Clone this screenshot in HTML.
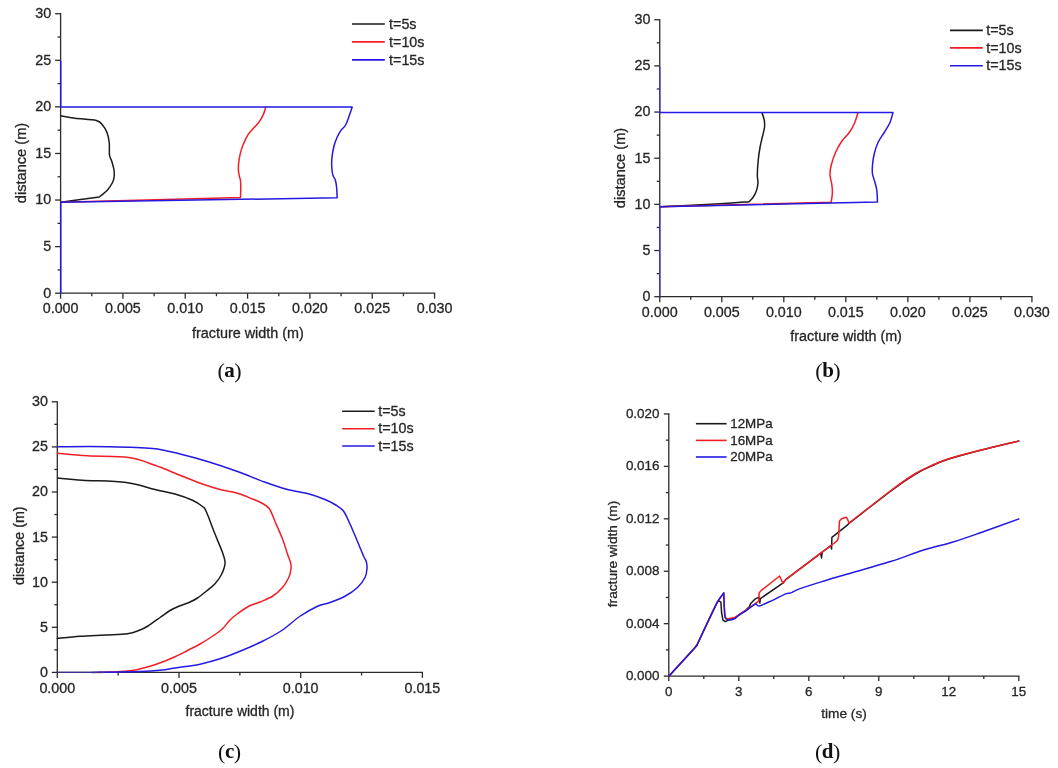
<!DOCTYPE html>
<html lang="en"><head><meta charset="utf-8"><title>Fracture width figures</title>
<style>
html,body{margin:0;padding:0;background:#fff;}
body{width:1058px;height:768px;overflow:hidden;}
svg{display:block;font-family:"Liberation Sans",Arial,sans-serif;}
</style></head><body>
<svg width="1058" height="768" viewBox="0 0 1058 768">
<rect width="1058" height="768" fill="#ffffff"/>
<line x1="60.60" y1="293.80" x2="60.60" y2="13.12" stroke="#2b2b2b" stroke-width="1.3"/>
<line x1="60.00" y1="293.20" x2="435.18" y2="293.20" stroke="#2b2b2b" stroke-width="1.3"/>
<line x1="60.60" y1="293.20" x2="60.60" y2="298.70" stroke="#2b2b2b" stroke-width="1.3"/>
<text x="60.60" y="313.30" font-size="14.3" text-anchor="middle" fill="#262626" stroke="#262626" stroke-width="0.3" >0.000</text>
<line x1="91.77" y1="293.20" x2="91.77" y2="296.20" stroke="#2b2b2b" stroke-width="1.3"/>
<line x1="122.93" y1="293.20" x2="122.93" y2="298.70" stroke="#2b2b2b" stroke-width="1.3"/>
<text x="122.93" y="313.30" font-size="14.3" text-anchor="middle" fill="#262626" stroke="#262626" stroke-width="0.3" >0.005</text>
<line x1="154.09" y1="293.20" x2="154.09" y2="296.20" stroke="#2b2b2b" stroke-width="1.3"/>
<line x1="185.26" y1="293.20" x2="185.26" y2="298.70" stroke="#2b2b2b" stroke-width="1.3"/>
<text x="185.26" y="313.30" font-size="14.3" text-anchor="middle" fill="#262626" stroke="#262626" stroke-width="0.3" >0.010</text>
<line x1="216.43" y1="293.20" x2="216.43" y2="296.20" stroke="#2b2b2b" stroke-width="1.3"/>
<line x1="247.59" y1="293.20" x2="247.59" y2="298.70" stroke="#2b2b2b" stroke-width="1.3"/>
<text x="247.59" y="313.30" font-size="14.3" text-anchor="middle" fill="#262626" stroke="#262626" stroke-width="0.3" >0.015</text>
<line x1="278.75" y1="293.20" x2="278.75" y2="296.20" stroke="#2b2b2b" stroke-width="1.3"/>
<line x1="309.92" y1="293.20" x2="309.92" y2="298.70" stroke="#2b2b2b" stroke-width="1.3"/>
<text x="309.92" y="313.30" font-size="14.3" text-anchor="middle" fill="#262626" stroke="#262626" stroke-width="0.3" >0.020</text>
<line x1="341.09" y1="293.20" x2="341.09" y2="296.20" stroke="#2b2b2b" stroke-width="1.3"/>
<line x1="372.25" y1="293.20" x2="372.25" y2="298.70" stroke="#2b2b2b" stroke-width="1.3"/>
<text x="372.25" y="313.30" font-size="14.3" text-anchor="middle" fill="#262626" stroke="#262626" stroke-width="0.3" >0.025</text>
<line x1="403.42" y1="293.20" x2="403.42" y2="296.20" stroke="#2b2b2b" stroke-width="1.3"/>
<line x1="434.58" y1="293.20" x2="434.58" y2="298.70" stroke="#2b2b2b" stroke-width="1.3"/>
<text x="434.58" y="313.30" font-size="14.3" text-anchor="middle" fill="#262626" stroke="#262626" stroke-width="0.3" >0.030</text>
<line x1="60.60" y1="293.20" x2="55.10" y2="293.20" stroke="#2b2b2b" stroke-width="1.3"/>
<text x="51.20" y="297.60" font-size="14.3" text-anchor="end" fill="#262626" stroke="#262626" stroke-width="0.3" >0</text>
<line x1="60.60" y1="269.91" x2="57.60" y2="269.91" stroke="#2b2b2b" stroke-width="1.3"/>
<line x1="60.60" y1="246.62" x2="55.10" y2="246.62" stroke="#2b2b2b" stroke-width="1.3"/>
<text x="51.20" y="251.02" font-size="14.3" text-anchor="end" fill="#262626" stroke="#262626" stroke-width="0.3" >5</text>
<line x1="60.60" y1="223.33" x2="57.60" y2="223.33" stroke="#2b2b2b" stroke-width="1.3"/>
<line x1="60.60" y1="200.04" x2="55.10" y2="200.04" stroke="#2b2b2b" stroke-width="1.3"/>
<text x="51.20" y="204.44" font-size="14.3" text-anchor="end" fill="#262626" stroke="#262626" stroke-width="0.3" >10</text>
<line x1="60.60" y1="176.75" x2="57.60" y2="176.75" stroke="#2b2b2b" stroke-width="1.3"/>
<line x1="60.60" y1="153.46" x2="55.10" y2="153.46" stroke="#2b2b2b" stroke-width="1.3"/>
<text x="51.20" y="157.86" font-size="14.3" text-anchor="end" fill="#262626" stroke="#262626" stroke-width="0.3" >15</text>
<line x1="60.60" y1="130.17" x2="57.60" y2="130.17" stroke="#2b2b2b" stroke-width="1.3"/>
<line x1="60.60" y1="106.88" x2="55.10" y2="106.88" stroke="#2b2b2b" stroke-width="1.3"/>
<text x="51.20" y="111.28" font-size="14.3" text-anchor="end" fill="#262626" stroke="#262626" stroke-width="0.3" >20</text>
<line x1="60.60" y1="83.59" x2="57.60" y2="83.59" stroke="#2b2b2b" stroke-width="1.3"/>
<line x1="60.60" y1="60.30" x2="55.10" y2="60.30" stroke="#2b2b2b" stroke-width="1.3"/>
<text x="51.20" y="64.70" font-size="14.3" text-anchor="end" fill="#262626" stroke="#262626" stroke-width="0.3" >25</text>
<line x1="60.60" y1="37.01" x2="57.60" y2="37.01" stroke="#2b2b2b" stroke-width="1.3"/>
<line x1="60.60" y1="13.72" x2="55.10" y2="13.72" stroke="#2b2b2b" stroke-width="1.3"/>
<text x="51.20" y="18.12" font-size="14.3" text-anchor="end" fill="#262626" stroke="#262626" stroke-width="0.3" >30</text>
<text x="247.90" y="337.50" font-size="14.4" text-anchor="middle" fill="#262626" stroke="#262626" stroke-width="0.3" >fracture width (m)</text>
<text transform="translate(25.60,163.00) rotate(-90)" font-size="14.6" text-anchor="middle" fill="#262626" stroke="#262626" stroke-width="0.3">distance (m)</text>
<path d="M60.75,115.75 C63.12,116.17 69.08,117.46 75.00,118.25 C80.92,119.04 91.67,119.38 96.25,120.50 C100.83,121.62 100.71,123.00 102.50,125.00 C104.29,127.00 105.88,129.58 107.00,132.50 C108.12,135.42 108.83,138.75 109.25,142.50 C109.67,146.25 109.08,151.88 109.50,155.00 C109.92,158.12 111.00,158.75 111.75,161.25 C112.50,163.75 113.59,167.46 114.00,170.00 C114.41,172.54 114.45,174.42 114.20,176.50 C113.95,178.58 113.62,180.25 112.50,182.50 C111.38,184.75 109.71,187.58 107.50,190.00 C105.29,192.42 100.62,195.83 99.25,197.00 L99.25,197.00 C96.46,197.38 88.92,198.38 82.50,199.25 C76.08,200.12 64.38,201.75 60.75,202.25 " fill="none" stroke="#1a1a1a" stroke-width="1.5" stroke-linejoin="round" stroke-linecap="round"/>
<path d="M265.80,106.90 C265.38,108.18 264.43,112.07 263.30,114.60 C262.17,117.13 260.57,119.90 259.00,122.10 C257.43,124.30 255.70,125.75 253.90,127.80 C252.10,129.85 250.00,131.57 248.20,134.40 C246.40,137.23 244.45,141.48 243.10,144.80 C241.75,148.12 240.85,151.15 240.10,154.30 C239.35,157.45 238.88,161.03 238.60,163.70 C238.32,166.37 238.28,168.25 238.40,170.30 C238.52,172.35 238.95,174.27 239.30,176.00 C239.65,177.73 240.25,178.65 240.50,180.70 C240.75,182.75 240.80,185.52 240.80,188.30 C240.80,191.08 240.55,195.88 240.50,197.40 L60.75,202.25" fill="none" stroke="#f21e26" stroke-width="1.5" stroke-linejoin="round" stroke-linecap="round"/>
<path d="M60.7,61.0 L60.7,106.9 L352.2,106.9 L352.20,106.90 C351.72,108.33 350.40,112.48 349.30,115.50 C348.20,118.52 347.02,122.48 345.60,125.00 C344.18,127.52 342.22,128.55 340.80,130.60 C339.38,132.65 338.27,134.62 337.10,137.30 C335.93,139.98 334.67,143.23 333.80,146.70 C332.93,150.17 332.23,154.63 331.90,158.10 C331.57,161.57 331.63,164.67 331.80,167.50 C331.97,170.33 332.33,173.05 332.90,175.10 C333.47,177.15 334.60,177.92 335.20,179.80 C335.80,181.68 336.17,183.40 336.50,186.40 C336.83,189.40 337.08,195.90 337.20,197.80 L60.7,202.25 L60.7,293.2" fill="none" stroke="#2419e2" stroke-width="1.5" stroke-linejoin="round" stroke-linecap="round"/>
<line x1="352.00" y1="24.05" x2="384.80" y2="24.05" stroke="#1a1a1a" stroke-width="1.6"/>
<text x="389.10" y="28.84" font-size="14.3" text-anchor="start" fill="#262626" stroke="#262626" stroke-width="0.3" >t=5s</text>
<line x1="352.00" y1="41.90" x2="384.80" y2="41.90" stroke="#f21e26" stroke-width="1.6"/>
<text x="389.10" y="46.69" font-size="14.3" text-anchor="start" fill="#262626" stroke="#262626" stroke-width="0.3" >t=10s</text>
<line x1="352.00" y1="59.90" x2="384.80" y2="59.90" stroke="#2419e2" stroke-width="1.6"/>
<text x="389.10" y="64.69" font-size="14.3" text-anchor="start" fill="#262626" stroke="#262626" stroke-width="0.3" >t=15s</text>
<text x="229.60" y="376.80" text-anchor="middle" font-family="'Liberation Serif',serif" font-size="21" fill="#111"><tspan font-size="22" dy="0.8">(</tspan><tspan font-weight="bold" dy="-0.8" dx="-0.5">a</tspan><tspan font-size="22" dy="0.8" dx="-0.5">)</tspan></text>
<line x1="659.75" y1="297.30" x2="659.75" y2="19.14" stroke="#2b2b2b" stroke-width="1.3"/>
<line x1="659.15" y1="296.70" x2="1032.53" y2="296.70" stroke="#2b2b2b" stroke-width="1.3"/>
<line x1="659.75" y1="296.70" x2="659.75" y2="302.20" stroke="#2b2b2b" stroke-width="1.3"/>
<text x="659.75" y="316.90" font-size="14.3" text-anchor="middle" fill="#262626" stroke="#262626" stroke-width="0.3" >0.000</text>
<line x1="690.76" y1="296.70" x2="690.76" y2="299.70" stroke="#2b2b2b" stroke-width="1.3"/>
<line x1="721.78" y1="296.70" x2="721.78" y2="302.20" stroke="#2b2b2b" stroke-width="1.3"/>
<text x="721.78" y="316.90" font-size="14.3" text-anchor="middle" fill="#262626" stroke="#262626" stroke-width="0.3" >0.005</text>
<line x1="752.79" y1="296.70" x2="752.79" y2="299.70" stroke="#2b2b2b" stroke-width="1.3"/>
<line x1="783.81" y1="296.70" x2="783.81" y2="302.20" stroke="#2b2b2b" stroke-width="1.3"/>
<text x="783.81" y="316.90" font-size="14.3" text-anchor="middle" fill="#262626" stroke="#262626" stroke-width="0.3" >0.010</text>
<line x1="814.83" y1="296.70" x2="814.83" y2="299.70" stroke="#2b2b2b" stroke-width="1.3"/>
<line x1="845.84" y1="296.70" x2="845.84" y2="302.20" stroke="#2b2b2b" stroke-width="1.3"/>
<text x="845.84" y="316.90" font-size="14.3" text-anchor="middle" fill="#262626" stroke="#262626" stroke-width="0.3" >0.015</text>
<line x1="876.86" y1="296.70" x2="876.86" y2="299.70" stroke="#2b2b2b" stroke-width="1.3"/>
<line x1="907.87" y1="296.70" x2="907.87" y2="302.20" stroke="#2b2b2b" stroke-width="1.3"/>
<text x="907.87" y="316.90" font-size="14.3" text-anchor="middle" fill="#262626" stroke="#262626" stroke-width="0.3" >0.020</text>
<line x1="938.88" y1="296.70" x2="938.88" y2="299.70" stroke="#2b2b2b" stroke-width="1.3"/>
<line x1="969.90" y1="296.70" x2="969.90" y2="302.20" stroke="#2b2b2b" stroke-width="1.3"/>
<text x="969.90" y="316.90" font-size="14.3" text-anchor="middle" fill="#262626" stroke="#262626" stroke-width="0.3" >0.025</text>
<line x1="1000.91" y1="296.70" x2="1000.91" y2="299.70" stroke="#2b2b2b" stroke-width="1.3"/>
<line x1="1031.93" y1="296.70" x2="1031.93" y2="302.20" stroke="#2b2b2b" stroke-width="1.3"/>
<text x="1031.93" y="316.90" font-size="14.3" text-anchor="middle" fill="#262626" stroke="#262626" stroke-width="0.3" >0.030</text>
<line x1="659.75" y1="296.70" x2="654.25" y2="296.70" stroke="#2b2b2b" stroke-width="1.3"/>
<text x="650.35" y="301.10" font-size="14.3" text-anchor="end" fill="#262626" stroke="#262626" stroke-width="0.3" >0</text>
<line x1="659.75" y1="273.62" x2="656.75" y2="273.62" stroke="#2b2b2b" stroke-width="1.3"/>
<line x1="659.75" y1="250.54" x2="654.25" y2="250.54" stroke="#2b2b2b" stroke-width="1.3"/>
<text x="650.35" y="254.94" font-size="14.3" text-anchor="end" fill="#262626" stroke="#262626" stroke-width="0.3" >5</text>
<line x1="659.75" y1="227.46" x2="656.75" y2="227.46" stroke="#2b2b2b" stroke-width="1.3"/>
<line x1="659.75" y1="204.38" x2="654.25" y2="204.38" stroke="#2b2b2b" stroke-width="1.3"/>
<text x="650.35" y="208.78" font-size="14.3" text-anchor="end" fill="#262626" stroke="#262626" stroke-width="0.3" >10</text>
<line x1="659.75" y1="181.30" x2="656.75" y2="181.30" stroke="#2b2b2b" stroke-width="1.3"/>
<line x1="659.75" y1="158.22" x2="654.25" y2="158.22" stroke="#2b2b2b" stroke-width="1.3"/>
<text x="650.35" y="162.62" font-size="14.3" text-anchor="end" fill="#262626" stroke="#262626" stroke-width="0.3" >15</text>
<line x1="659.75" y1="135.14" x2="656.75" y2="135.14" stroke="#2b2b2b" stroke-width="1.3"/>
<line x1="659.75" y1="112.06" x2="654.25" y2="112.06" stroke="#2b2b2b" stroke-width="1.3"/>
<text x="650.35" y="116.46" font-size="14.3" text-anchor="end" fill="#262626" stroke="#262626" stroke-width="0.3" >20</text>
<line x1="659.75" y1="88.98" x2="656.75" y2="88.98" stroke="#2b2b2b" stroke-width="1.3"/>
<line x1="659.75" y1="65.90" x2="654.25" y2="65.90" stroke="#2b2b2b" stroke-width="1.3"/>
<text x="650.35" y="70.30" font-size="14.3" text-anchor="end" fill="#262626" stroke="#262626" stroke-width="0.3" >25</text>
<line x1="659.75" y1="42.82" x2="656.75" y2="42.82" stroke="#2b2b2b" stroke-width="1.3"/>
<line x1="659.75" y1="19.74" x2="654.25" y2="19.74" stroke="#2b2b2b" stroke-width="1.3"/>
<text x="650.35" y="24.14" font-size="14.3" text-anchor="end" fill="#262626" stroke="#262626" stroke-width="0.3" >30</text>
<text x="846.10" y="340.80" font-size="14.35" text-anchor="middle" fill="#262626" stroke="#262626" stroke-width="0.3" >fracture width (m)</text>
<text transform="translate(625.40,168.00) rotate(-90)" font-size="14.6" text-anchor="middle" fill="#262626" stroke="#262626" stroke-width="0.3">distance (m)</text>
<path d="M762.00,112.80 C762.38,114.00 763.83,117.55 764.25,120.00 C764.67,122.45 764.79,124.79 764.50,127.50 C764.21,130.21 763.25,132.92 762.50,136.25 C761.75,139.58 760.71,143.54 760.00,147.50 C759.29,151.46 758.70,155.42 758.25,160.00 C757.80,164.58 757.34,171.17 757.30,175.00 C757.26,178.83 758.17,180.29 758.00,183.00 C757.83,185.71 757.08,188.83 756.25,191.25 C755.42,193.67 754.21,195.75 753.00,197.50 C751.79,199.25 749.67,201.04 749.00,201.75 L749.00,201.75 C744.17,202.08 734.83,202.92 720.00,203.75 C705.17,204.58 670.00,206.25 660.00,206.75 " fill="none" stroke="#1a1a1a" stroke-width="1.5" stroke-linejoin="round" stroke-linecap="round"/>
<path d="M858.00,112.60 C857.38,114.46 855.71,120.43 854.25,123.75 C852.79,127.07 851.33,129.58 849.25,132.50 C847.17,135.42 844.04,137.92 841.75,141.25 C839.46,144.58 837.25,148.54 835.50,152.50 C833.75,156.46 832.17,161.25 831.25,165.00 C830.33,168.75 829.92,171.83 830.00,175.00 C830.08,178.17 831.35,181.08 831.75,184.00 C832.15,186.92 832.49,189.47 832.40,192.50 C832.31,195.53 831.40,200.58 831.20,202.20 L660,206.75" fill="none" stroke="#f21e26" stroke-width="1.5" stroke-linejoin="round" stroke-linecap="round"/>
<path d="M659.75,66.6 L659.75,112.4 M659.75,206.75 L659.75,296.7" fill="none" stroke="#4038b4" stroke-width="1.4"/>
<path d="M659.75,112.4 L893,112.4 L893.00,112.40 C892.50,114.08 891.46,119.15 890.00,122.50 C888.54,125.85 886.25,129.17 884.25,132.50 C882.25,135.83 879.67,138.96 878.00,142.50 C876.33,146.04 875.17,150.00 874.25,153.75 C873.33,157.50 872.79,161.62 872.50,165.00 C872.21,168.38 872.08,171.08 872.50,174.00 C872.92,176.92 874.28,179.75 875.00,182.50 C875.72,185.25 876.38,187.25 876.80,190.50 C877.22,193.75 877.38,200.08 877.50,202.00 L659.75,206.75" fill="none" stroke="#2419e2" stroke-width="1.5" stroke-linejoin="round" stroke-linecap="round"/>
<line x1="950.00" y1="30.40" x2="982.80" y2="30.40" stroke="#1a1a1a" stroke-width="1.6"/>
<text x="986.30" y="35.19" font-size="14.3" text-anchor="start" fill="#262626" stroke="#262626" stroke-width="0.3" >t=5s</text>
<line x1="950.00" y1="47.90" x2="982.80" y2="47.90" stroke="#f21e26" stroke-width="1.6"/>
<text x="986.30" y="52.69" font-size="14.3" text-anchor="start" fill="#262626" stroke="#262626" stroke-width="0.3" >t=10s</text>
<line x1="950.00" y1="65.70" x2="982.80" y2="65.70" stroke="#2419e2" stroke-width="1.6"/>
<text x="986.30" y="70.49" font-size="14.3" text-anchor="start" fill="#262626" stroke="#262626" stroke-width="0.3" >t=15s</text>
<text x="828.00" y="376.80" text-anchor="middle" font-family="'Liberation Serif',serif" font-size="21" fill="#111"><tspan font-size="22" dy="0.8">(</tspan><tspan font-weight="bold" dy="-0.8" dx="-0.5">b</tspan><tspan font-size="22" dy="0.8" dx="-0.5">)</tspan></text>
<line x1="57.30" y1="673.00" x2="57.30" y2="401.20" stroke="#2b2b2b" stroke-width="1.3"/>
<line x1="56.70" y1="672.40" x2="423.00" y2="672.40" stroke="#2b2b2b" stroke-width="1.3"/>
<line x1="57.30" y1="672.40" x2="57.30" y2="677.90" stroke="#2b2b2b" stroke-width="1.3"/>
<text x="57.30" y="692.50" font-size="14.3" text-anchor="middle" fill="#262626" stroke="#262626" stroke-width="0.3" >0.000</text>
<line x1="118.15" y1="672.40" x2="118.15" y2="675.40" stroke="#2b2b2b" stroke-width="1.3"/>
<line x1="179.00" y1="672.40" x2="179.00" y2="677.90" stroke="#2b2b2b" stroke-width="1.3"/>
<text x="179.00" y="692.50" font-size="14.3" text-anchor="middle" fill="#262626" stroke="#262626" stroke-width="0.3" >0.005</text>
<line x1="239.85" y1="672.40" x2="239.85" y2="675.40" stroke="#2b2b2b" stroke-width="1.3"/>
<line x1="300.70" y1="672.40" x2="300.70" y2="677.90" stroke="#2b2b2b" stroke-width="1.3"/>
<text x="300.70" y="692.50" font-size="14.3" text-anchor="middle" fill="#262626" stroke="#262626" stroke-width="0.3" >0.010</text>
<line x1="361.55" y1="672.40" x2="361.55" y2="675.40" stroke="#2b2b2b" stroke-width="1.3"/>
<line x1="422.40" y1="672.40" x2="422.40" y2="677.90" stroke="#2b2b2b" stroke-width="1.3"/>
<text x="422.40" y="692.50" font-size="14.3" text-anchor="middle" fill="#262626" stroke="#262626" stroke-width="0.3" >0.015</text>
<line x1="57.30" y1="672.40" x2="51.80" y2="672.40" stroke="#2b2b2b" stroke-width="1.3"/>
<text x="47.90" y="676.80" font-size="14.3" text-anchor="end" fill="#262626" stroke="#262626" stroke-width="0.3" >0</text>
<line x1="57.30" y1="649.85" x2="54.30" y2="649.85" stroke="#2b2b2b" stroke-width="1.3"/>
<line x1="57.30" y1="627.30" x2="51.80" y2="627.30" stroke="#2b2b2b" stroke-width="1.3"/>
<text x="47.90" y="631.70" font-size="14.3" text-anchor="end" fill="#262626" stroke="#262626" stroke-width="0.3" >5</text>
<line x1="57.30" y1="604.75" x2="54.30" y2="604.75" stroke="#2b2b2b" stroke-width="1.3"/>
<line x1="57.30" y1="582.20" x2="51.80" y2="582.20" stroke="#2b2b2b" stroke-width="1.3"/>
<text x="47.90" y="586.60" font-size="14.3" text-anchor="end" fill="#262626" stroke="#262626" stroke-width="0.3" >10</text>
<line x1="57.30" y1="559.65" x2="54.30" y2="559.65" stroke="#2b2b2b" stroke-width="1.3"/>
<line x1="57.30" y1="537.10" x2="51.80" y2="537.10" stroke="#2b2b2b" stroke-width="1.3"/>
<text x="47.90" y="541.50" font-size="14.3" text-anchor="end" fill="#262626" stroke="#262626" stroke-width="0.3" >15</text>
<line x1="57.30" y1="514.55" x2="54.30" y2="514.55" stroke="#2b2b2b" stroke-width="1.3"/>
<line x1="57.30" y1="492.00" x2="51.80" y2="492.00" stroke="#2b2b2b" stroke-width="1.3"/>
<text x="47.90" y="496.40" font-size="14.3" text-anchor="end" fill="#262626" stroke="#262626" stroke-width="0.3" >20</text>
<line x1="57.30" y1="469.45" x2="54.30" y2="469.45" stroke="#2b2b2b" stroke-width="1.3"/>
<line x1="57.30" y1="446.90" x2="51.80" y2="446.90" stroke="#2b2b2b" stroke-width="1.3"/>
<text x="47.90" y="451.30" font-size="14.3" text-anchor="end" fill="#262626" stroke="#262626" stroke-width="0.3" >25</text>
<line x1="57.30" y1="424.35" x2="54.30" y2="424.35" stroke="#2b2b2b" stroke-width="1.3"/>
<line x1="57.30" y1="401.80" x2="51.80" y2="401.80" stroke="#2b2b2b" stroke-width="1.3"/>
<text x="47.90" y="406.20" font-size="14.3" text-anchor="end" fill="#262626" stroke="#262626" stroke-width="0.3" >30</text>
<text x="240.00" y="716.10" font-size="14.0" text-anchor="middle" fill="#262626" stroke="#262626" stroke-width="0.3" >fracture width (m)</text>
<text transform="translate(23.80,545.70) rotate(-90)" font-size="14.3" text-anchor="middle" fill="#262626" stroke="#262626" stroke-width="0.3">distance (m)</text>
<path d="M57.75,478.00 C61.88,478.38 71.08,479.50 82.50,480.25 C93.92,481.00 114.17,480.96 126.25,482.50 C138.33,484.04 146.88,487.58 155.00,489.50 C163.12,491.42 168.75,492.21 175.00,494.00 C181.25,495.79 187.92,498.17 192.50,500.25 C197.08,502.33 200.21,504.62 202.50,506.50 C204.79,508.38 204.17,506.92 206.25,511.50 C208.33,516.08 212.29,527.17 215.00,534.00 C217.71,540.83 220.83,547.92 222.50,552.50 C224.17,557.08 224.71,559.00 225.00,561.50 C225.29,564.00 224.88,565.25 224.25,567.50 C223.62,569.75 222.79,572.29 221.25,575.00 C219.71,577.71 217.50,581.04 215.00,583.75 C212.50,586.46 209.17,588.88 206.25,591.25 C203.33,593.62 200.21,596.21 197.50,598.00 C194.79,599.79 193.12,600.62 190.00,602.00 C186.88,603.38 182.08,604.83 178.75,606.25 C175.42,607.67 173.12,608.62 170.00,610.50 C166.88,612.38 163.75,614.88 160.00,617.50 C156.25,620.12 150.83,624.17 147.50,626.25 C144.17,628.33 143.33,628.75 140.00,630.00 C136.67,631.25 133.33,632.92 127.50,633.75 C121.67,634.58 112.92,634.58 105.00,635.00 C97.08,635.42 87.96,635.67 80.00,636.25 C72.04,636.83 61.04,638.12 57.25,638.50" fill="none" stroke="#1a1a1a" stroke-width="1.5" stroke-linejoin="round" stroke-linecap="round"/>
<path d="M57.75,453.25 C62.71,453.67 75.67,455.04 87.50,455.75 C99.33,456.46 117.50,455.92 128.75,457.50 C140.00,459.08 146.46,462.29 155.00,465.25 C163.54,468.21 172.08,472.12 180.00,475.25 C187.92,478.38 195.83,481.62 202.50,484.00 C209.17,486.38 214.17,487.96 220.00,489.50 C225.83,491.04 232.08,491.67 237.50,493.25 C242.92,494.83 248.33,497.29 252.50,499.00 C256.67,500.71 259.67,501.83 262.50,503.50 C265.33,505.17 267.42,506.00 269.50,509.00 C271.58,512.00 272.83,516.50 275.00,521.50 C277.17,526.50 280.42,533.58 282.50,539.00 C284.58,544.42 286.15,550.04 287.50,554.00 C288.85,557.96 290.02,560.25 290.60,562.75 C291.18,565.25 291.31,566.54 291.00,569.00 C290.69,571.46 290.17,574.42 288.75,577.50 C287.33,580.58 285.21,584.38 282.50,587.50 C279.79,590.62 276.25,593.83 272.50,596.25 C268.75,598.67 263.96,600.33 260.00,602.00 C256.04,603.67 252.50,604.29 248.75,606.25 C245.00,608.21 240.62,611.46 237.50,613.75 C234.38,616.04 232.50,617.50 230.00,620.00 C227.50,622.50 225.42,626.04 222.50,628.75 C219.58,631.46 216.25,633.71 212.50,636.25 C208.75,638.79 204.17,641.62 200.00,644.00 C195.83,646.38 191.67,648.38 187.50,650.50 C183.33,652.62 179.17,654.83 175.00,656.75 C170.83,658.67 166.67,660.42 162.50,662.00 C158.33,663.58 154.58,664.92 150.00,666.25 C145.42,667.58 140.00,669.11 135.00,670.00 C130.00,670.89 125.00,671.23 120.00,671.60 C115.00,671.97 108.67,672.07 105.00,672.20 C101.33,672.33 99.17,672.37 98.00,672.40" fill="none" stroke="#f21e26" stroke-width="1.5" stroke-linejoin="round" stroke-linecap="round"/>
<path d="M57.75,446.70 C66.04,446.70 91.71,446.40 107.50,446.70 C123.29,447.00 140.42,447.28 152.50,448.50 C164.58,449.72 170.83,451.83 180.00,454.00 C189.17,456.17 197.92,458.58 207.50,461.50 C217.08,464.42 228.00,468.08 237.50,471.50 C247.00,474.92 256.17,479.00 264.50,482.00 C272.83,485.00 280.33,487.58 287.50,489.50 C294.67,491.42 301.25,491.83 307.50,493.50 C313.75,495.17 320.21,497.54 325.00,499.50 C329.79,501.46 333.12,503.25 336.25,505.25 C339.38,507.25 341.46,508.38 343.75,511.50 C346.04,514.62 347.71,519.00 350.00,524.00 C352.29,529.00 355.21,536.08 357.50,541.50 C359.79,546.92 362.29,553.17 363.75,556.50 C365.21,559.83 365.71,559.50 366.25,561.50 C366.79,563.50 367.21,565.83 367.00,568.50 C366.79,571.17 366.58,574.33 365.00,577.50 C363.42,580.67 360.83,584.38 357.50,587.50 C354.17,590.62 349.58,593.75 345.00,596.25 C340.42,598.75 334.58,600.83 330.00,602.50 C325.42,604.17 322.50,603.96 317.50,606.25 C312.50,608.54 305.83,612.29 300.00,616.25 C294.17,620.21 288.75,625.83 282.50,630.00 C276.25,634.17 269.58,637.71 262.50,641.25 C255.42,644.79 247.08,648.33 240.00,651.25 C232.92,654.17 226.67,656.58 220.00,658.75 C213.33,660.92 205.00,663.06 200.00,664.25 C195.00,665.44 194.17,665.27 190.00,665.90 C185.83,666.52 179.58,667.32 175.00,668.00 C170.42,668.68 168.33,669.40 162.50,670.00 C156.67,670.60 150.42,671.22 140.00,671.60 C129.58,671.98 108.00,672.17 100.00,672.30 C92.00,672.43 93.33,672.38 92.00,672.40" fill="none" stroke="#2419e2" stroke-width="1.5" stroke-linejoin="round" stroke-linecap="round"/>
<path d="M57.3,672.4 L104,672.4" fill="none" stroke="#3a3098" stroke-width="1.4"/>
<line x1="342.20" y1="411.30" x2="374.70" y2="411.30" stroke="#1a1a1a" stroke-width="1.6"/>
<text x="378.20" y="416.09" font-size="14.3" text-anchor="start" fill="#262626" stroke="#262626" stroke-width="0.3" >t=5s</text>
<line x1="342.20" y1="428.70" x2="374.70" y2="428.70" stroke="#f21e26" stroke-width="1.6"/>
<text x="378.20" y="433.49" font-size="14.3" text-anchor="start" fill="#262626" stroke="#262626" stroke-width="0.3" >t=10s</text>
<line x1="342.20" y1="446.00" x2="374.70" y2="446.00" stroke="#2419e2" stroke-width="1.6"/>
<text x="378.20" y="450.79" font-size="14.3" text-anchor="start" fill="#262626" stroke="#262626" stroke-width="0.3" >t=15s</text>
<text x="229.60" y="758.00" text-anchor="middle" font-family="'Liberation Serif',serif" font-size="21" fill="#111"><tspan font-size="22" dy="0.8">(</tspan><tspan font-weight="bold" dy="-0.8" dx="-0.5">c</tspan><tspan font-size="22" dy="0.8" dx="-0.5">)</tspan></text>
<line x1="668.80" y1="676.70" x2="668.80" y2="413.35" stroke="#2b2b2b" stroke-width="1.3"/>
<line x1="668.20" y1="676.10" x2="1019.40" y2="676.10" stroke="#2b2b2b" stroke-width="1.3"/>
<line x1="668.80" y1="676.10" x2="668.80" y2="681.10" stroke="#2b2b2b" stroke-width="1.3"/>
<text x="668.80" y="695.60" font-size="13.4" text-anchor="middle" fill="#262626" stroke="#262626" stroke-width="0.3" >0</text>
<line x1="703.80" y1="676.10" x2="703.80" y2="679.10" stroke="#2b2b2b" stroke-width="1.3"/>
<line x1="738.80" y1="676.10" x2="738.80" y2="681.10" stroke="#2b2b2b" stroke-width="1.3"/>
<text x="738.80" y="695.60" font-size="13.4" text-anchor="middle" fill="#262626" stroke="#262626" stroke-width="0.3" >3</text>
<line x1="773.80" y1="676.10" x2="773.80" y2="679.10" stroke="#2b2b2b" stroke-width="1.3"/>
<line x1="808.80" y1="676.10" x2="808.80" y2="681.10" stroke="#2b2b2b" stroke-width="1.3"/>
<text x="808.80" y="695.60" font-size="13.4" text-anchor="middle" fill="#262626" stroke="#262626" stroke-width="0.3" >6</text>
<line x1="843.80" y1="676.10" x2="843.80" y2="679.10" stroke="#2b2b2b" stroke-width="1.3"/>
<line x1="878.80" y1="676.10" x2="878.80" y2="681.10" stroke="#2b2b2b" stroke-width="1.3"/>
<text x="878.80" y="695.60" font-size="13.4" text-anchor="middle" fill="#262626" stroke="#262626" stroke-width="0.3" >9</text>
<line x1="913.80" y1="676.10" x2="913.80" y2="679.10" stroke="#2b2b2b" stroke-width="1.3"/>
<line x1="948.80" y1="676.10" x2="948.80" y2="681.10" stroke="#2b2b2b" stroke-width="1.3"/>
<text x="948.80" y="695.60" font-size="13.4" text-anchor="middle" fill="#262626" stroke="#262626" stroke-width="0.3" >12</text>
<line x1="983.80" y1="676.10" x2="983.80" y2="679.10" stroke="#2b2b2b" stroke-width="1.3"/>
<line x1="1018.80" y1="676.10" x2="1018.80" y2="681.10" stroke="#2b2b2b" stroke-width="1.3"/>
<text x="1018.80" y="695.60" font-size="13.4" text-anchor="middle" fill="#262626" stroke="#262626" stroke-width="0.3" >15</text>
<line x1="668.80" y1="676.10" x2="663.80" y2="676.10" stroke="#2b2b2b" stroke-width="1.3"/>
<text x="659.40" y="680.17" font-size="13.4" text-anchor="end" fill="#262626" stroke="#262626" stroke-width="0.3" >0.000</text>
<line x1="668.80" y1="649.88" x2="665.80" y2="649.88" stroke="#2b2b2b" stroke-width="1.3"/>
<line x1="668.80" y1="623.67" x2="663.80" y2="623.67" stroke="#2b2b2b" stroke-width="1.3"/>
<text x="659.40" y="627.74" font-size="13.4" text-anchor="end" fill="#262626" stroke="#262626" stroke-width="0.3" >0.004</text>
<line x1="668.80" y1="597.46" x2="665.80" y2="597.46" stroke="#2b2b2b" stroke-width="1.3"/>
<line x1="668.80" y1="571.24" x2="663.80" y2="571.24" stroke="#2b2b2b" stroke-width="1.3"/>
<text x="659.40" y="575.31" font-size="13.4" text-anchor="end" fill="#262626" stroke="#262626" stroke-width="0.3" >0.008</text>
<line x1="668.80" y1="545.03" x2="665.80" y2="545.03" stroke="#2b2b2b" stroke-width="1.3"/>
<line x1="668.80" y1="518.81" x2="663.80" y2="518.81" stroke="#2b2b2b" stroke-width="1.3"/>
<text x="659.40" y="522.88" font-size="13.4" text-anchor="end" fill="#262626" stroke="#262626" stroke-width="0.3" >0.012</text>
<line x1="668.80" y1="492.60" x2="665.80" y2="492.60" stroke="#2b2b2b" stroke-width="1.3"/>
<line x1="668.80" y1="466.38" x2="663.80" y2="466.38" stroke="#2b2b2b" stroke-width="1.3"/>
<text x="659.40" y="470.45" font-size="13.4" text-anchor="end" fill="#262626" stroke="#262626" stroke-width="0.3" >0.016</text>
<line x1="668.80" y1="440.17" x2="665.80" y2="440.17" stroke="#2b2b2b" stroke-width="1.3"/>
<line x1="668.80" y1="413.95" x2="663.80" y2="413.95" stroke="#2b2b2b" stroke-width="1.3"/>
<text x="659.40" y="418.02" font-size="13.4" text-anchor="end" fill="#262626" stroke="#262626" stroke-width="0.3" >0.020</text>
<text x="844.00" y="718.00" font-size="13.7" text-anchor="middle" fill="#262626" stroke="#262626" stroke-width="0.3" >time (s)</text>
<text transform="translate(617.30,554.00) rotate(-90)" font-size="13.7" text-anchor="middle" fill="#262626" stroke="#262626" stroke-width="0.3">fracture width (m)</text>
<path d="M669,676.1 L695.1,647.4 L697.2,644.5 L707.3,623 L717.3,602.2 L718.7,600.8 L720.9,602.2 L721.6,613 L723,620.1 L725.2,621.6 L728,620.4 L734.5,618 L746,610.1 L749.5,606.5 L750.5,603.7 L754.6,599.4 L758.9,597.2 L759.9,603 L760.3,598.7 L783.2,582.9 L785.7,579.6 L820.8,553.1 L821.5,557.9 L822.3,552.0 L830.9,545.6 L831.6,548.9 L831.9,537.3 L847.3,525.2 L849.1,523.2 L849.10,523.20 C856.42,517.55 881.93,497.50 893.00,489.30 C904.07,481.10 909.25,477.82 915.50,474.00 C921.75,470.18 925.08,468.85 930.50,466.40 C935.92,463.95 939.67,461.99 948.00,459.30 C956.33,456.61 968.71,453.30 980.50,450.25 C992.29,447.20 1012.38,442.54 1018.75,441.00" fill="none" stroke="#1a1a1a" stroke-width="1.5" stroke-linejoin="round" stroke-linecap="round"/>
<path d="M669,676.1 L695.1,647.4 L697.2,644.5 L707.3,623 L717.3,602.2 L723.8,592.9 L724.2,605.8 L725.2,617.3 L727.3,619 L734.5,617.6 L746,610.1 L756,603.2 L758.9,600.8 L759.1,592.9 L761.7,590.1 L779.6,576 L782.9,583.2 L785.7,579.6 L820.8,553.1 L834.4,543.0 L837.3,540.7 L838.5,537.3 L839.5,520.9 L841.6,518.7 L846.2,517.3 L847.3,518.7 L849.1,523.2 L849.10,523.20 C856.42,517.50 881.93,497.28 893.00,489.00 C904.07,480.72 909.25,477.33 915.50,473.50 C921.75,469.67 925.08,468.42 930.50,466.00 C935.92,463.58 939.67,461.62 948.00,459.00 C956.33,456.38 968.71,453.25 980.50,450.25 C992.29,447.25 1012.38,442.54 1018.75,441.00" fill="none" stroke="#f21e26" stroke-width="1.5" stroke-linejoin="round" stroke-linecap="round"/>
<path d="M669.00,676.10 C673.35,671.32 690.40,652.67 695.10,647.40 C699.80,642.13 695.17,648.57 697.20,644.50 C699.23,640.43 703.95,630.05 707.30,623.00 C710.65,615.95 714.55,607.22 717.30,602.20 C720.05,597.18 722.72,594.45 723.80,592.90 L723.80,592.90 C723.87,595.05 724.03,601.98 724.20,605.80 C724.37,609.62 724.47,613.60 724.80,615.80 C725.13,618.00 725.53,618.32 726.20,619.00 C726.87,619.68 727.42,619.95 728.80,619.90 C730.18,619.85 732.95,619.38 734.50,618.70 C736.05,618.02 736.18,617.12 738.10,615.80 C740.02,614.48 743.73,612.35 746.00,610.80 C748.27,609.25 750.03,607.68 751.70,606.50 C753.37,605.32 755.28,604.17 756.00,603.70 L756.00,603.70 C756.28,604.00 756.98,605.15 757.70,605.50 C758.42,605.85 758.92,606.18 760.30,605.80 C761.68,605.42 763.62,604.27 766.00,603.20 C768.38,602.13 771.25,601.00 774.60,599.40 C777.95,597.80 783.35,594.68 786.10,593.60 C788.85,592.52 788.78,593.73 791.10,592.90 C793.42,592.07 793.97,590.75 800.00,588.60 C806.03,586.45 820.55,582.10 827.30,580.00 C834.05,577.90 829.97,579.08 840.50,576.00 C851.03,572.92 876.75,565.79 890.50,561.50 C904.25,557.21 912.58,553.50 923.00,550.25 C933.42,547.00 943.42,544.92 953.00,542.00 C962.58,539.08 969.54,536.58 980.50,532.75 C991.46,528.92 1012.38,521.29 1018.75,519.00 " fill="none" stroke="#2419e2" stroke-width="1.5" stroke-linejoin="round" stroke-linecap="round"/>
<line x1="695.90" y1="423.70" x2="726.60" y2="423.70" stroke="#1a1a1a" stroke-width="1.6"/>
<text x="730.20" y="428.19" font-size="13.4" text-anchor="start" fill="#262626" stroke="#262626" stroke-width="0.3" >12MPa</text>
<line x1="695.90" y1="440.40" x2="726.60" y2="440.40" stroke="#f21e26" stroke-width="1.6"/>
<text x="730.20" y="444.89" font-size="13.4" text-anchor="start" fill="#262626" stroke="#262626" stroke-width="0.3" >16MPa</text>
<line x1="695.90" y1="457.00" x2="726.60" y2="457.00" stroke="#2419e2" stroke-width="1.6"/>
<text x="730.20" y="461.49" font-size="13.4" text-anchor="start" fill="#262626" stroke="#262626" stroke-width="0.3" >20MPa</text>
<text x="827.60" y="758.00" text-anchor="middle" font-family="'Liberation Serif',serif" font-size="21" fill="#111"><tspan font-size="22" dy="0.8">(</tspan><tspan font-weight="bold" dy="-0.8" dx="-0.5">d</tspan><tspan font-size="22" dy="0.8" dx="-0.5">)</tspan></text>
</svg>
</body></html>
